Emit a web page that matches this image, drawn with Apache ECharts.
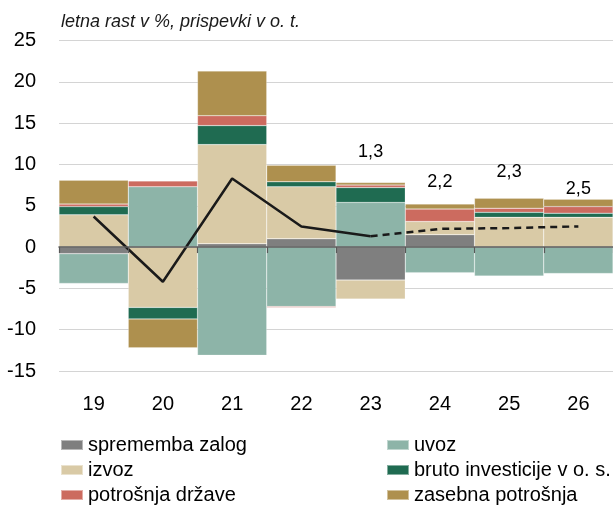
<!DOCTYPE html>
<html>
<head>
<meta charset="utf-8">
<script src="https://cdn.jsdelivr.net/npm/echarts@6/dist/echarts.min.js"></script>
<style>
html,body{margin:0;padding:0;background:#fff;}
#c{width:613px;height:506px;}
</style>
</head>
<body>
<div id="c"></div>
<script>
const categories = ['19','20','21','22','23','24','25','26'];
const spremembaZalog = [-0.8, null, 0.4, 1.0, -4.0, 1.5, null, null];
const uvoz = [-3.6, 7.3, -13.1, -7.2, 5.4, -3.1, -3.5, -3.2];
const izvoz = [3.9, -7.3, 12.0, 6.3, -2.3, 1.6, 3.6, 3.6];
const brutoInvesticije = [1.0, -1.4, 2.3, 0.6, 1.8, null, 0.6, 0.5];
const potrosnjaDrzave = [0.3, 0.7, 1.2, -0.1, 0.3, 1.5, 0.5, 0.8];
const zasebnaPotrosnja = [2.9, -3.5, 5.4, 2.0, 0.3, 0.6, 1.2, 0.9];
const bdpRast = [3.7, -4.2, 8.3, 2.5, 1.3, 2.2, 2.3, 2.5];
const lastActual = 4; // index of '23'
const yTicks = {min: -15, max: 25, interval: 5};

const FONT = "'Liberation Sans',Arial,sans-serif";
const labelOffsets = {4: -84, 5: -47, 6: -56, 7: -37};

const solidData = bdpRast.map((v, i) => i <= lastActual ? v : null);
const dashedData = bdpRast.map((v, i) => {
  if (i < lastActual) return null;
  return {
    value: v,
    label: {
      show: true,
      position: 'inside',
      offset: [0, labelOffsets[i]],
      formatter: () => String(v).replace('.', ','),
      color: '#000',
      fontSize: 18,
      fontFamily: FONT
    }
  };
});

const barBase = {
  type: 'bar', stack: 'total', barCategoryGap: '0%',
  xAxisIndex: 0, yAxisIndex: 0,
  itemStyle: {borderColor: 'rgba(255,255,255,0.45)', borderWidth: 0.5}
};
function bar(name, data, color) {
  return Object.assign({}, barBase, {name, data, itemStyle: Object.assign({}, barBase.itemStyle, {color})});
}

const legendCommon = {
  orient: 'vertical', top: 435, height: 80, padding: 0,
  itemWidth: 22, itemHeight: 10, itemGap: 5,
  icon: 'rect', selectedMode: false,
  textStyle: {fontSize: 20, lineHeight: 18, fontFamily: FONT, color: '#000'}
};

const chart = echarts.init(document.getElementById('c'), null, {renderer: 'canvas'});
chart.setOption({
  animation: false,
  backgroundColor: '#fff',
  title: {
    text: 'letna rast v %, prispevki v o. t.',
    left: 61, top: 13, padding: 0,
    textStyle: {fontStyle: 'italic', fontWeight: 'normal', fontSize: 18, fontFamily: FONT, color: '#1a1a1a'}
  },
  grid: {left: 59, right: 0, top: 40.5, bottom: 135, containLabel: false, outerBoundsMode: 'none'},
  legend: [
    Object.assign({}, legendCommon, {left: 60, data: ['sprememba zalog', 'izvoz', 'potrošnja države']}),
    Object.assign({}, legendCommon, {left: 386, data: ['uvoz', 'bruto investicije v o. s.', 'zasebna potrošnja']})
  ],
  xAxis: [
    {
      type: 'category', data: categories, position: 'bottom',
      axisLine: {show: false, onZero: false}, axisTick: {show: false},
      axisLabel: {fontSize: 20, fontFamily: FONT, color: '#000', margin: 23}
    },
    {
      type: 'category', data: categories, position: 'bottom', z: 10,
      axisLine: {show: true, onZero: true, lineStyle: {color: '#595959', width: 1.5}},
      axisTick: {show: true, length: 6, lineStyle: {color: '#595959', width: 1.2}},
      axisLabel: {show: false}
    }
  ],
  yAxis: {
    type: 'value', min: yTicks.min, max: yTicks.max, interval: yTicks.interval,
    axisLine: {show: false}, axisTick: {show: false},
    splitLine: {lineStyle: {color: '#d4d4d4', width: 1}},
    axisLabel: {fontSize: 20, fontFamily: FONT, color: '#000', margin: 23}
  },
  series: [
    bar('sprememba zalog', spremembaZalog, '#7f7f7f'),
    bar('uvoz', uvoz, '#8db4a8'),
    bar('izvoz', izvoz, '#d9caa6'),
    bar('bruto investicije v o. s.', brutoInvesticije, '#1f6b51'),
    bar('potrošnja države', potrosnjaDrzave, '#cc6b5f'),
    bar('zasebna potrošnja', zasebnaPotrosnja, '#ae904e'),
    {
      name: 'BDP', type: 'line', data: solidData, xAxisIndex: 0, z: 5,
      symbol: 'none', lineStyle: {color: '#1a1a1a', width: 2.5}, itemStyle: {color: '#1a1a1a'}
    },
    {
      name: 'BDP napoved', type: 'line', data: dashedData, xAxisIndex: 0, z: 5,
      symbol: 'circle', symbolSize: 1, showSymbol: true,
      lineStyle: {color: '#1a1a1a', width: 2.5, type: [7, 5]},
      itemStyle: {color: 'rgba(0,0,0,0)'}
    }
  ]
});
</script>
</body>
</html>
